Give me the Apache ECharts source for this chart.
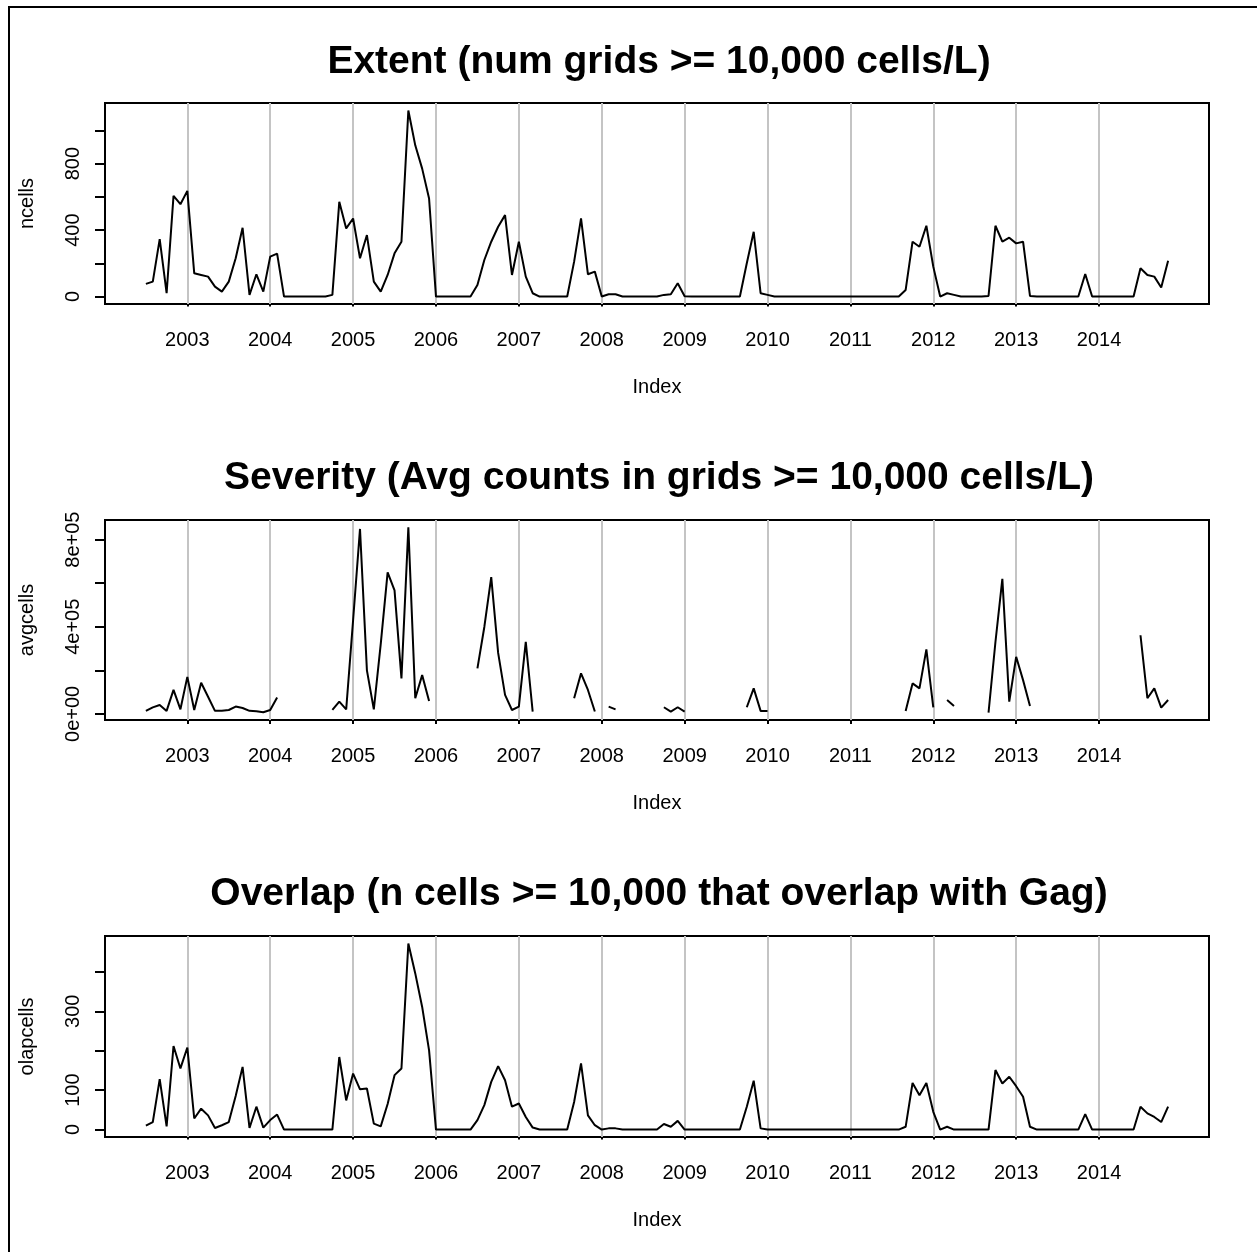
<!DOCTYPE html>
<html>
<head>
<meta charset="utf-8">
<script src="https://cdn.jsdelivr.net/npm/echarts@6/dist/echarts.min.js"></script>
<style>
  html, body { margin: 0; padding: 0; background: #fff; }
  #chart { width: 1257px; height: 1252px; }
</style>
</head>
<body>
<div id="chart"></div>
<script>
// monthly values, Jul 2002 .. Nov 2014 (null = no grid above threshold)
const startYear = 2002;
const startMonth = 7;
const years = [2003, 2004, 2005, 2006, 2007, 2008, 2009, 2010, 2011, 2012, 2013, 2014];

const ncells = [
  76, 90, 346, 20, 606, 556, 636, 140, 130, 120, 60, 30,
  90, 230, 414, 10, 134, 30, 240, 258, 0, 0, 0, 0,
  0, 0, 0, 10, 570, 410, 470, 230, 370, 90, 30, 130,
  260, 330, 1120, 910, 770, 590, 0, 0, 0, 0, 0, 0,
  70, 220, 330, 420, 490, 130, 330, 120, 20, 0, 0, 0,
  0, 0, 210, 470, 134, 150, 0, 14, 14, 0, 0, 0,
  0, 0, 0, 10, 14, 80, 2, 0, 0, 0, 0, 0,
  0, 0, 0, 200, 390, 20, 10, 0, 0, 0, 0, 0,
  0, 0, 0, 0, 0, 0, 0, 0, 0, 0, 0, 0,
  0, 0, 40, 330, 300, 426, 180, 0, 20, 10, 0, 0,
  0, 0, 4, 426, 330, 354, 320, 330, 4, 0, 0, 0,
  0, 0, 0, 0, 136, 0, 0, 0, 0, 0, 0, 0,
  170, 130, 120, 54, 216
];

const avgcells = [
  13700, 30000, 41000, 13700, 110000, 21000, 170000, 18000, 143000, 79000, 14000, 14000,
  18000, 33500, 27000, 14000, 12000, 7600, 18000, 75000, null, null, null, null,
  null, null, null, 18000, 56000, 21000, 430000, 849000, 200000, 21000, 320000, 650000,
  567000, 163000, 856000, 72000, 178000, 59000, null, null, null, null, null, null,
  209000, 399000, 628000, 280000, 87000, 18000, 33500, 331000, 10700, null, null, null,
  null, null, 72000, 186000, 110000, 10700, null, 33500, 21000, null, null, null,
  null, null, null, 30500, 10700, 30500, 10700, null, null, null, null, null,
  null, null, null, 30500, 117000, 13700, 13700, null, null, null, null, null,
  null, null, null, null, null, null, null, null, null, null, null, null,
  null, null, 13700, 140000, 117000, 296000, 30000, null, 64000, 36600, null, null,
  null, null, 6000, 330000, 620000, 56000, 262000, 155000, 36600, null, null, null,
  null, null, null, null, null, null, null, null, null, null, null, null,
  361000, 72000, 117000, 29000, 64000
];

const olapcells = [
  10, 19, 128, 8, 212, 155, 208, 28, 53, 36, 4, 11,
  19, 85, 159, 4, 58, 5, 24, 38, 0, 0, 0, 0,
  0, 0, 0, 0, 184, 74, 142, 102, 104, 15, 8, 65,
  138, 155, 472, 396, 311, 201, 0, 0, 0, 0, 0, 0,
  24, 62, 121, 161, 125, 58, 66, 32, 5, 0, 0, 0,
  0, 0, 70, 168, 36, 11, 0, 3, 3, 0, 0, 0,
  0, 0, 0, 14, 7, 22, 0, 0, 0, 0, 0, 0,
  0, 0, 0, 58, 124, 3, 0, 0, 0, 0, 0, 0,
  0, 0, 0, 0, 0, 0, 0, 0, 0, 0, 0, 0,
  0, 0, 7, 118, 87, 118, 45, 0, 7, 0, 0, 0,
  0, 0, 0, 151, 117, 134, 110, 83, 7, 0, 0, 0,
  0, 0, 0, 0, 39, 0, 0, 0, 0, 0, 0, 0,
  58, 41, 32, 19, 58
];

const titles = [
  'Extent (num grids >= 10,000 cells/L)',
  'Severity (Avg counts in grids >= 10,000 cells/L)',
  'Overlap (n cells >= 10,000 that overlap with Gag)'
];
const yNames = ['ncells', 'avgcells', 'olapcells'];
const yTicks = [
  [0, 200, 400, 600, 800, 1000],
  [0, 200000, 400000, 600000, 800000],
  [0, 100, 200, 300, 400]
];
const yLabels = [
  [0, 400, 800],
  [0, 400000, 800000],
  [0, 100, 300]
];

const FONT = '"Liberation Sans", Arial, sans-serif';

// decimal-year index of each month
const idx = ncells.map((_, i) => startYear + (startMonth - 1) / 12 + i / 12);
const xPad = (idx[idx.length - 1] - idx[0]) * 0.04;
const xMin = idx[0] - xPad;
const xMax = idx[idx.length - 1] + xPad;

const boxes = [
  { top: 103, height: 201, titleY: 38 },
  { top: 520, height: 200, titleY: 454 },
  { top: 936, height: 201, titleY: 870 }
];

const sci = v => v === 0 ? '0e+00' : (v / 100000) + 'e+05';
const plain = v => String(v);

const grid = [], xAxis = [], yAxis = [], series = [], title = [];

[ncells, avgcells, olapcells].forEach((vals, k) => {
  const b = boxes[k];
  const ok = vals.filter(v => v != null);
  const lo = Math.min(...ok), hi = Math.max(...ok);
  const pad = (hi - lo) * 0.04;

  title.push({
    text: titles[k],
    left: 654,
    top: b.titleY,
    textAlign: 'center',
    textStyle: { fontFamily: FONT, fontSize: 39, fontWeight: 'bold', color: '#000' }
  });

  grid.push({
    left: 105, top: b.top, width: 1104, height: b.height,
    show: true, borderColor: '#000', borderWidth: 2, backgroundColor: 'transparent'
  });

  xAxis.push({
    type: 'value', gridIndex: k, min: xMin, max: xMax,
    name: 'Index', nameLocation: 'middle', nameGap: 73,
    nameTextStyle: { fontFamily: FONT, fontSize: 20, color: '#000' },
    axisLine: { show: false },
    splitLine: { show: false },
    axisTick: { show: true, length: 10, customValues: years, lineStyle: { color: '#000', width: 2 } },
    axisLabel: { customValues: years, margin: 26, fontFamily: FONT, fontSize: 20, color: '#000', formatter: plain }
  });

  yAxis.push({
    type: 'value', gridIndex: k, min: lo - pad, max: hi + pad,
    name: yNames[k], nameLocation: 'middle', nameGap: 68,
    nameTextStyle: { fontFamily: FONT, fontSize: 20, color: '#000' },
    axisLine: { show: false },
    splitLine: { show: false },
    axisTick: { show: true, length: 10, customValues: yTicks[k], lineStyle: { color: '#000', width: 2 } },
    axisLabel: {
      customValues: yLabels[k], rotate: 90, margin: 22,
      fontFamily: FONT, fontSize: 20, color: '#000',
      formatter: k === 1 ? sci : plain
    }
  });

  series.push({
    type: 'line', xAxisIndex: k, yAxisIndex: k,
    data: idx.map((x, i) => [x, vals[i]]),
    showSymbol: false, symbol: 'none', connectNulls: false,
    lineStyle: { color: '#000', width: 2 },
    z: 3,
    markLine: {
      silent: true, symbol: ['none', 'none'], label: { show: false },
      lineStyle: { color: '#c4c4c4', type: 'solid', width: 2 },
      data: years.map(y => ({ xAxis: y })),
      z: 1
    }
  });
});

const chart = echarts.init(document.getElementById('chart'));
chart.setOption({
  animation: false,
  backgroundColor: '#fff',
  title: title,
  grid: grid,
  xAxis: xAxis,
  yAxis: yAxis,
  series: series,
  graphic: [{
    type: 'rect',
    shape: { x: 9, y: 7, width: 1400, height: 1400 },
    style: { fill: 'none', stroke: '#000', lineWidth: 2 },
    silent: true
  }]
});
</script>
</body>
</html>
